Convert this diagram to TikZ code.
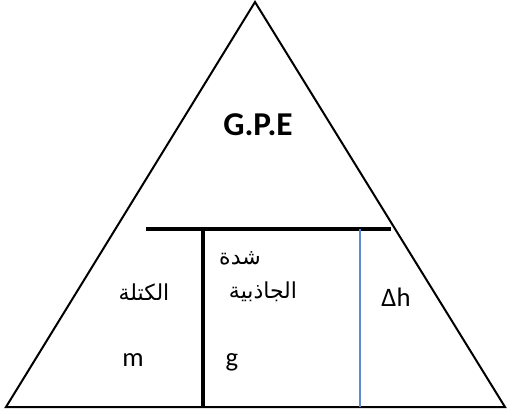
\documentclass[tikz,border=0pt]{standalone}
\usepackage{fontspec}
\setmainfont{Carlito}
\newfontfamily\arabicfont[Script=Arabic]{DejaVu Sans}
\TeXXeTstate=1
\definecolor{lineblue}{HTML}{5B8BD0}
\begin{document}
\begin{tikzpicture}[x=0.75pt,y=-0.75pt,
  lbl/.style={inner sep=0pt, font=\fontsize{20}{24}\selectfont},
  titlelbl/.style={inner sep=0pt, font=\bfseries\fontsize{25}{30}\selectfont},
  arlbl/.style={inner sep=0pt, font=\arabicfont\fontsize{16.5}{20}\selectfont},
  edge/.style={line width=1.5pt, line join=miter},
  bar/.style={line width=3pt},
  thinbar/.style={lineblue, line width=1pt}]
\useasboundingbox (0,0) rectangle (507,413);
\coordinate (apex) at (255,2);
\coordinate (bl) at (6,407);
\coordinate (br) at (505,407);
\coordinate (hl) at (146,229);
\coordinate (hr) at (391,229);
\coordinate (v1t) at (203,229);
\coordinate (v1b) at (203,407);
\coordinate (v2t) at (360,229);
\coordinate (v2b) at (360,407);
\draw[edge] (bl) -- (apex) -- (br) -- cycle;
\draw[bar] (hl) -- (hr);
\draw[bar] (v1t) -- (v1b);
\draw[thinbar] (v2t) -- (v2b);
\node[titlelbl, anchor=base] (gpe) at (258,136) {G.P.E};
\node[arlbl] (mass) at (144,292) {\beginR الكتلة\endR};
\node[lbl, anchor=base] (m) at (133,366) {m};
\node[arlbl] (shidda) at (240,258) {\beginR شدة\endR};
\node[arlbl] (jadhibiya) at (263,292) {\beginR الجاذبية\endR};
\node[lbl, anchor=base] (g) at (232,366) {g};
\node[lbl, anchor=base] (dh) at (396,306) {Δh};
\end{tikzpicture}
\end{document}
